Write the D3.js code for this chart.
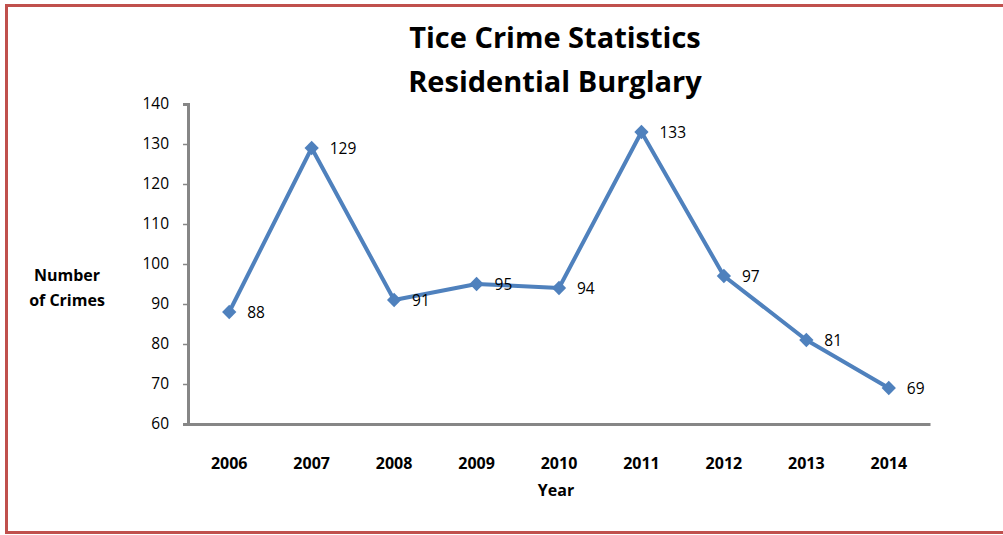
<!DOCTYPE html>
<html><head><meta charset="utf-8">
<script src="https://cdn.jsdelivr.net/npm/d3@7"></script>
<style>body{margin:0;background:#fff}svg{display:block}</style>
</head><body>
<script>
const years = ["2006","2007","2008","2009","2010","2011","2012","2013","2014"];
const crimes = [88,129,91,95,94,133,97,81,69];
const yTicks = [60,70,80,90,100,110,120,130,140];
const titleLines = ["Tice Crime Statistics","Residential Burglary"];

const W=1003,H=535;
const svg=d3.select("body").append("svg").attr("width",W).attr("height",H);
svg.append("rect").attr("width",W).attr("height",H).attr("fill","#fff");
svg.append("rect").attr("x",6.5).attr("y",5.5).attr("width",W+10).attr("height",527)
  .attr("fill","none").attr("stroke","#C0504D").attr("stroke-width",3);

const font="'Open Sans', 'Liberation Sans', sans-serif";
const x=d3.scaleBand().domain(years).range([188,930]);
const y=d3.scaleLinear().domain([60,140]).range([424,104]);

svg.selectAll("text.title").data(titleLines).enter().append("text")
  .attr("x",555).attr("y",(d,i)=>48+i*44).attr("text-anchor","middle")
  .attr("font-family",font).attr("font-weight","bold").attr("font-size",29).attr("fill","#000").text(d=>d);

const gy=svg.append("g").attr("transform","translate(188,0)")
  .call(d3.axisLeft(y).tickValues(yTicks).tickSize(5).tickPadding(14));
gy.select(".domain").attr("stroke","#868686").attr("stroke-width",3);
gy.selectAll(".tick line").attr("stroke","#868686").attr("stroke-width",1.5);
gy.selectAll(".tick text").attr("font-family",font).attr("font-size",15.5).attr("fill","#000");

const gx=svg.append("g").attr("transform","translate(0,424)")
  .call(d3.axisBottom(x).tickSize(0).tickPadding(34));
gx.select(".domain").attr("stroke","#868686").attr("stroke-width",3);
gx.selectAll(".tick text").attr("font-family",font).attr("font-weight","bold").attr("font-size",16).attr("fill","#000");

svg.append("text").attr("x",556).attr("y",496).attr("text-anchor","middle")
  .attr("font-family",font).attr("font-weight","bold").attr("font-size",16).text("Year");
svg.append("text").attr("x",67).attr("y",281).attr("text-anchor","middle")
  .attr("font-family",font).attr("font-weight","bold").attr("font-size",16).text("Number");
svg.append("text").attr("x",67).attr("y",306).attr("text-anchor","middle")
  .attr("font-family",font).attr("font-weight","bold").attr("font-size",16).text("of Crimes");

const pts=years.map((yr,i)=>({yr,v:crimes[i]}));
const cx=d=>x(d.yr)+x.bandwidth()/2;
svg.append("path").datum(pts).attr("fill","none").attr("stroke","#4F81BD").attr("stroke-width",4)
  .attr("stroke-linejoin","round")
  .attr("d",d3.line().x(cx).y(d=>y(d.v)));
svg.selectAll("path.m").data(pts).enter().append("path")
  .attr("d",d3.symbol().type(d3.symbolDiamond2).size(130))
  .attr("transform",d=>`translate(${cx(d)},${y(d.v)})`)
  .attr("fill","#4F81BD");
svg.selectAll("text.lbl").data(pts).enter().append("text")
  .attr("x",d=>cx(d)+18).attr("y",d=>y(d.v)+6)
  .attr("font-family",font).attr("font-size",15.5).attr("fill","#000").text(d=>d.v);
</script>
</body></html>
